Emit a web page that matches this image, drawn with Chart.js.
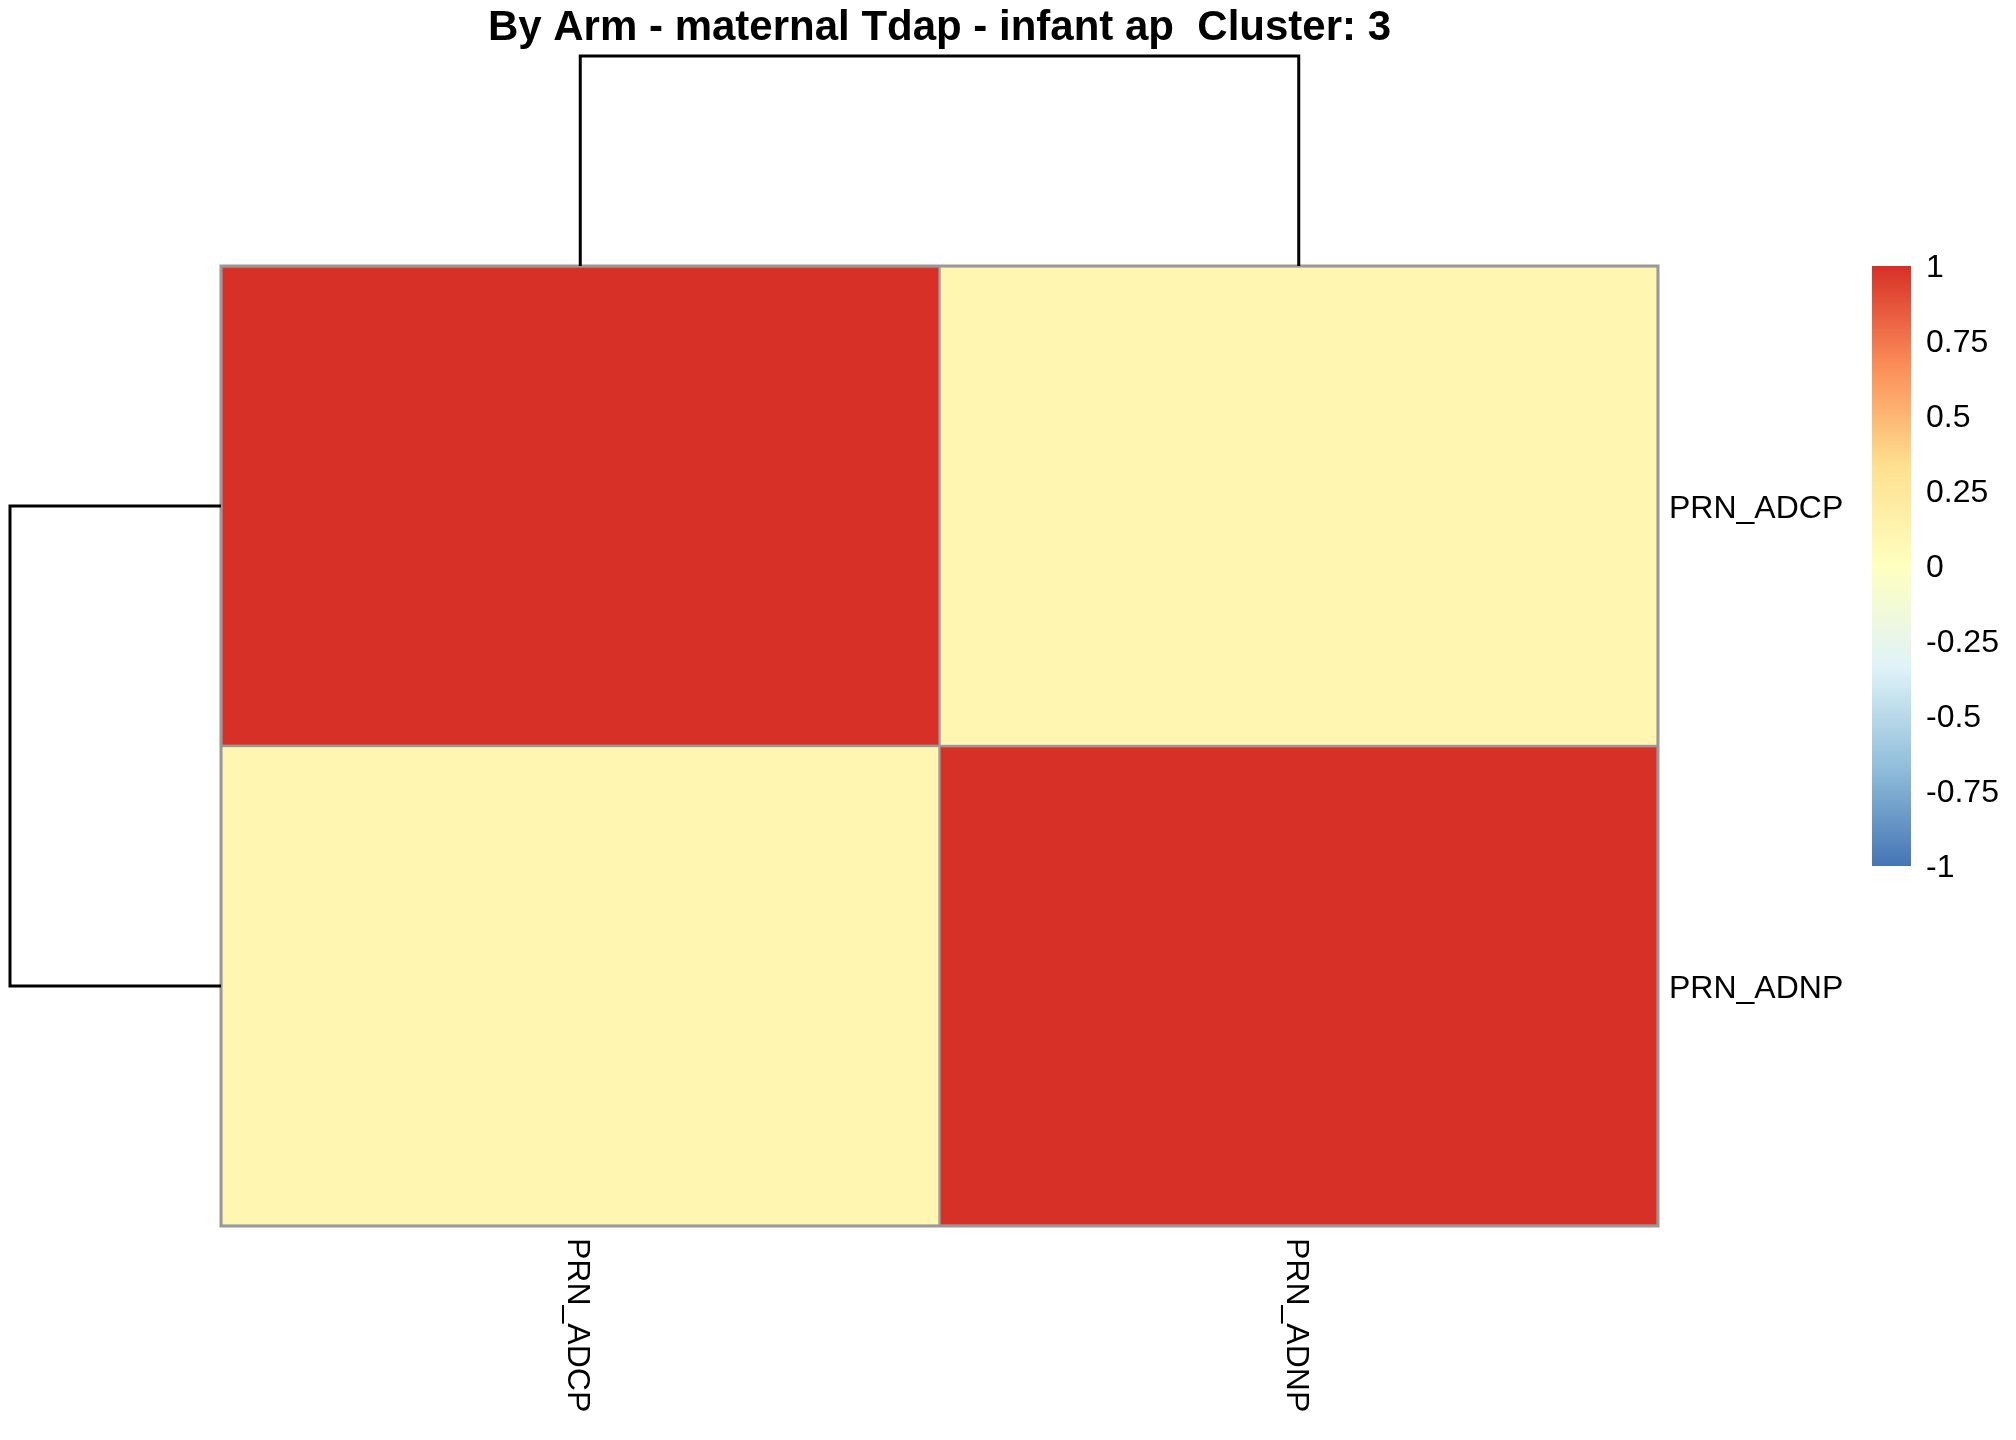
<!DOCTYPE html>
<html>
<head>
<meta charset="utf-8">
<title>By Arm - maternal Tdap - infant ap  Cluster: 3</title>
<script src="https://cdn.jsdelivr.net/npm/chart.js@4.4.1/dist/chart.umd.min.js"></script>
<style>
    html, body { margin: 0; padding: 0; background: #ffffff; }
    #wrap { width: 2016px; height: 1440px; }
</style>
</head>
<body>
<div id="wrap"><canvas id="myChart" width="2016" height="1440"></canvas></div>
<script>
// du lieu doc tu hinh
var colLabels = ["PRN_ADCP", "PRN_ADNP"];
var rowLabels = ["PRN_ADCP", "PRN_ADNP"];
var row0 = [1, 0.1];
var row1 = [0.1, 1];
var legendTicks = [1, 0.75, 0.5, 0.25, 0, -0.25, -0.5, -0.75, -1];
var legendTickLabels = ["1", "0.75", "0.5", "0.25", "0", "-0.25", "-0.5", "-0.75", "-1"];
// do cao hop nhat cua cay (chuan hoa)
var colMergeHeight = [1];
var rowMergeHeight = [1];

var titleText = "By Arm - maternal Tdap - infant ap  Cluster: 3";

// bang mau RdYlBu (dao nguoc) nhu pheatmap
var palette = ["#4575B4", "#91BFDB", "#E0F3F8", "#FFFFBF", "#FEE090", "#FC8D59", "#D73027"];

function hexToRgb(h) {
    return [parseInt(h.substr(1, 2), 16), parseInt(h.substr(3, 2), 16), parseInt(h.substr(5, 2), 16)];
}

function valueToColor(v) {
    var t = (v + 1) / 2 * (palette.length - 1);
    var i = Math.min(Math.floor(t), palette.length - 2);
    var f = t - i;
    var a = hexToRgb(palette[i]);
    var b = hexToRgb(palette[i + 1]);
    var c = [];
    for (var k = 0; k < 3; k++) {
        c.push(Math.round(a[k] + (b[k] - a[k]) * f));
    }
    return "rgb(" + c[0] + "," + c[1] + "," + c[2] + ")";
}

var matrix = [row0, row1];
var datasets = matrix.map(function (row, r) {
    return {
        label: rowLabels[r],
        data: row.map(function () { return [r, r + 1]; }),
        backgroundColor: row.map(valueToColor),
        borderColor: "#999999",
        borderWidth: 1.5,
        borderSkipped: false,
        barPercentage: 1,
        categoryPercentage: 1,
        grouped: false
    };
});

var treeSize = 210;
var labelFont = "32px 'Liberation Sans', Arial, sans-serif";

var extraPlugin = {
    id: "heatmapExtras",
    afterDatasetsDraw: function (chart) {
        var ctx = chart.ctx;
        var area = chart.chartArea;
        var xs = chart.scales.x;
        var ys = chart.scales.y;

        // vien ngoai
        ctx.save();
        ctx.strokeStyle = "#999999";
        ctx.lineWidth = 3;
        ctx.strokeRect(area.left, area.top, area.right - area.left, area.bottom - area.top);

        // cay tren (cot)
        ctx.strokeStyle = "#000000";
        ctx.lineWidth = 3;
        var cx0 = xs.getPixelForValue(0);
        var cx1 = xs.getPixelForValue(1);
        var cy = area.top - treeSize * colMergeHeight[0];
        ctx.beginPath();
        ctx.moveTo(cx0, area.top);
        ctx.lineTo(cx0, cy);
        ctx.lineTo(cx1, cy);
        ctx.lineTo(cx1, area.top);
        ctx.stroke();

        // cay trai (hang)
        var ry0 = ys.getPixelForValue(0.5);
        var ry1 = ys.getPixelForValue(1.5);
        var rx = area.left - treeSize * rowMergeHeight[0] - 1;
        ctx.beginPath();
        ctx.moveTo(area.left, ry0);
        ctx.lineTo(rx, ry0);
        ctx.lineTo(rx, ry1);
        ctx.lineTo(area.left, ry1);
        ctx.stroke();

        // nhan hang
        ctx.fillStyle = "#000000";
        ctx.font = labelFont;
        ctx.textAlign = "left";
        ctx.textBaseline = "middle";
        rowLabels.forEach(function (lab, r) {
            ctx.fillText(lab, area.right + 11, ys.getPixelForValue(r + 0.5) + 3);
        });

        // nhan cot (xoay 90 do)
        colLabels.forEach(function (lab, c) {
            ctx.save();
            ctx.translate(xs.getPixelForValue(c) - 3, area.bottom + 12);
            ctx.rotate(Math.PI / 2);
            ctx.textAlign = "left";
            ctx.textBaseline = "middle";
            ctx.fillText(lab, 0, 0);
            ctx.restore();
        });

        // thanh mau chu giai
        var lx = 1872, lw = 39, lTop = 266, lBottom = 866;
        var grad = ctx.createLinearGradient(0, lBottom, 0, lTop);
        palette.forEach(function (col, i) {
            grad.addColorStop(i / (palette.length - 1), col);
        });
        ctx.fillStyle = grad;
        ctx.fillRect(lx, lTop, lw, lBottom - lTop);

        ctx.fillStyle = "#000000";
        ctx.textAlign = "left";
        ctx.textBaseline = "middle";
        legendTicks.forEach(function (v, i) {
            var y = lBottom - (v + 1) / 2 * (lBottom - lTop);
            ctx.fillText(legendTickLabels[i], lx + lw + 15, y + 2);
        });
        ctx.restore();
    }
};

var ctx = document.getElementById("myChart").getContext("2d");
var myChart = new Chart(ctx, {
    type: "bar",
    data: {
        labels: colLabels,
        datasets: datasets
    },
    options: {
        responsive: false,
        devicePixelRatio: 1,
        animation: false,
        layout: {
            padding: { left: 221, right: 358, top: 0, bottom: 214 }
        },
        scales: {
            x: {
                type: "category",
                display: false,
                offset: true
            },
            y: {
                type: "linear",
                display: false,
                min: 0,
                max: 2,
                reverse: true
            }
        },
        plugins: {
            legend: { display: false },
            tooltip: { enabled: false },
            title: {
                display: true,
                text: titleText,
                color: "#000000",
                font: { family: "'Liberation Sans', Arial, sans-serif", size: 42, weight: "bold", lineHeight: 1.2 },
                padding: { top: 3, bottom: 212.6 }
            }
        }
    },
    plugins: [extraPlugin]
});
</script>
</body>
</html>
